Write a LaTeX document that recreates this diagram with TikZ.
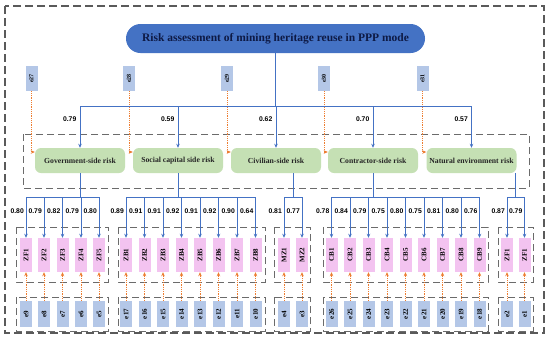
\documentclass[tikz,border=0pt]{standalone}
\usepackage{fontspec}
\setmainfont{Liberation Serif}
\newfontfamily\numfont{Liberation Sans}
\usetikzlibrary{arrows.meta,calc}
\definecolor{tblue}{HTML}{4472C4}
\definecolor{ttext}{HTML}{0E1A45}
\definecolor{rgreen}{HTML}{C5E0B4}
\definecolor{ipink}{HTML}{F3C3F0}
\definecolor{eblue}{HTML}{B4C7E7}
\definecolor{lorange}{HTML}{ED7D31}
\definecolor{dgray}{HTML}{5A5A5A}
\begin{document}
\begin{tikzpicture}[x=1pt,y=-1pt,
 titlebox/.style={rectangle,rounded corners=14.5pt,fill=tblue,minimum width=299pt,minimum height=29pt,inner sep=0pt,font=\bfseries\fontsize{11.5}{12}\selectfont,text=ttext},
 riskbox/.style={rectangle,rounded corners=6pt,fill=rgreen,minimum width=90pt,minimum height=25pt,inner sep=0pt,font=\bfseries\fontsize{7.7}{9}\selectfont,text=black!85},
 indbox/.style={rectangle,fill=ipink,minimum width=12pt,minimum height=34pt,inner sep=0pt,font=\bfseries\fontsize{7}{8}\selectfont},
 ebox/.style={rectangle,fill=eblue,minimum width=12pt,minimum height=26pt,inner sep=0pt,font=\bfseries\fontsize{7}{8}\selectfont},
 topebox/.style={ebox,minimum height=25pt,font=\bfseries\fontsize{6}{7}\selectfont},
 bline/.style={draw=tblue,line width=0.9pt},
 barrow/.style={bline,-{Stealth[length=4pt,width=3.5pt]}},
 oarrow/.style={draw=lorange,line width=1pt,dash pattern=on 1pt off 0.8pt,-{Stealth[length=4pt,width=3.5pt]}},
 wlabel/.style={font=\numfont\bfseries\fontsize{6.8}{7}\selectfont,anchor=east,inner sep=0pt},
 outerframe/.style={draw=dgray,line width=1.1pt,dash pattern=on 8pt off 4pt},
 groupframe/.style={draw=dgray!90,line width=1pt,dash pattern=on 7pt off 4pt},
]
\useasboundingbox (0,0) rectangle (550,338);
\fill[white] (0,0) rectangle (550,338);
% frames
\draw[outerframe] (5,6) rectangle (544,333);
\draw[groupframe] (23,134) rectangle (529,188);
\foreach \a/\b in {16/108,118/265,274/310,323/488,498/533}{
  \draw[groupframe] (\a,227) rectangle (\b,282);
  \draw[groupframe] (\a,297) rectangle (\b,331);
}
% helper levels
\coordinate (topY) at (0,106);
\coordinate (topL) at (0,119);
\coordinate (barY) at (0,197);
\coordinate (barL) at (0,211);
% title
\node[titlebox] (title) at (275.5,38.5) {Risk assessment of mining heritage reuse in PPP mode};
% risk nodes
\node[riskbox] (gov) at (80,160.5) {Government-side risk};
\node[riskbox] (soc) at (178,160.5) {Social capital side risk};
\node[riskbox] (civ) at (276,160.5) {Civilian-side risk};
\node[riskbox] (con) at (373,160.5) {Contractor-side risk};
\node[riskbox] (nat) at (471.5,160.5) {Natural environment risk};
% top error boxes
\foreach \n/\t/\x/\r in {t27/e27/31.5/gov,t28/e28/129/soc,t29/e29/227/civ,t30/e30/324/con,t31/e31/422.5/nat}{
  \node[topebox] (\n) at (\x,78.5) {\rotatebox{90}{\t}};
  \draw[oarrow] (\n.south) |- ([yshift=8.5pt]\r.west);
}
% top blue tree
\draw[bline] (title.south) -- (title.south |- topY);
\draw[bline] (gov.north |- topY) -- (nat.north |- topY);
\foreach \r/\w in {gov/0.79,soc/0.59,civ/0.62,con/0.70,nat/0.57}{
  \draw[barrow] (\r.north |- topY) -- (\r.north);
  \node[wlabel] at ($(\r.north |- topL)+(-3.5,0)$) {\w};
}
% indicator groups
\foreach \n/\t/\x/\e/\w in {g1/ZF1/26/e9/0.80,g2/ZF2/44/e8/0.79,g3/ZF3/62.5/e7/0.82,g4/ZF4/81/e6/0.79,g5/ZF5/99/e5/0.80,
  s1/ZB1/126/e17/0.89,s2/ZB2/144.5/e16/0.91,s3/ZB3/163/e15/0.91,s4/ZB4/181.5/e14/0.92,s5/ZB5/200/e13/0.91,s6/ZB6/218.5/e12/0.92,s7/ZB7/237/e11/0.90,s8/ZB8/255.5/e10/0.64,
  m1/MZ1/284/e4/0.81,m2/MZ2/302/e3/0.77,
  c1/CB1/331.5/e26/0.78,c2/CB2/350/e25/0.84,c3/CB3/368.5/e24/0.79,c4/CB4/387/e23/0.75,c5/CB5/405.5/e22/0.80,c6/CB6/424/e21/0.75,c7/CB7/442.5/e20/0.81,c8/CB8/461/e19/0.80,c9/CB9/479.5/e18/0.76,
  n1/ZF1/507/e2/0.87,n2/ZF1/524.5/e1/0.79}{
  \node[indbox] (\n) at (\x,255) {\rotatebox{90}{\t}};
  \node[ebox] (e\n) at (\x,314) {\rotatebox{90}{\e}};
  \draw[oarrow] (e\n.north) -- (\n.south);
  \draw[barrow] (\n.north |- barY) -- (\n.north);
  \node[wlabel] at ($(\n.north |- barL)+(-2,0)$) {\w};
}
% bars
\draw[bline] (g1.north |- barY) -- (g5.north |- barY);
\draw[bline] (s1.north |- barY) -- (s8.north |- barY);
\draw[bline] (m1.north |- barY) -- (m2.north |- barY);
\draw[bline] (c1.north |- barY) -- (c9.north |- barY);
\draw[bline] (n1.north |- barY) -- (n2.north |- barY);
% drops
\draw[bline] (gov.south) -- (gov.south |- barY);
\draw[bline] (soc.south) -- (soc.south |- barY);
\draw[bline] (con.south) -- (con.south |- barY);
\coordinate (cmid) at ($(m1.north)!0.5!(m2.north)$);
\coordinate (nmid) at ($(n1.north)!0.5!(n2.north)$);
\draw[bline] (civ.south -| cmid) -- (cmid |- barY);
\draw[bline] (nat.south -| nmid) -- (nmid |- barY);
\end{tikzpicture}
\end{document}
